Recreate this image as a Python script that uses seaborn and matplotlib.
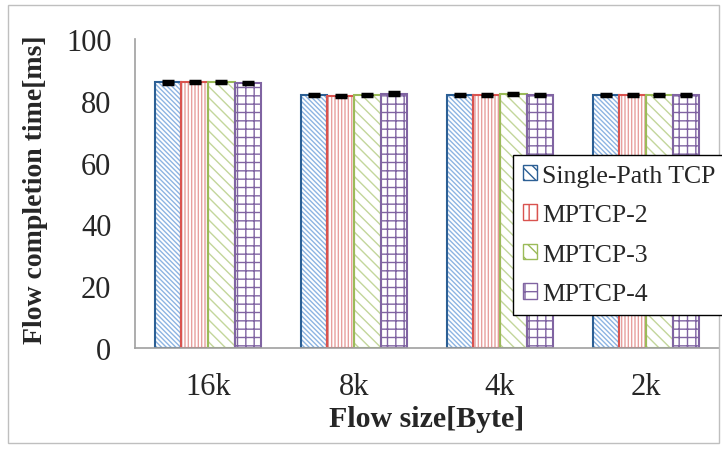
import matplotlib
matplotlib.use("Agg")
import matplotlib.pyplot as plt
import matplotlib.patches as mpatches
import seaborn as sns
import pandas as pd
import numpy as np

categories = ["16k", "8k", "4k", "2k"]
series = ["Single-Path TCP", "MPTCP-2", "MPTCP-3", "MPTCP-4"]
single_path = [86.0, 82.0, 82.0, 82.0]
mptcp2 = [86.2, 81.6, 81.8, 81.8]
mptcp3 = [86.2, 82.0, 82.3, 81.9]
mptcp4 = [85.9, 82.4, 81.8, 82.0]
errors = [
    [0.4, 0.3, 0.3, 0.3],
    [0.3, 0.3, 0.3, 0.3],
    [0.3, 0.3, 0.4, 0.3],
    [0.4, 0.4, 0.3, 0.3],
]
yticks = [0, 20, 40, 60, 80, 100]

edge_colors = ["#2C5F94", "#D9534F", "#9BBB59", "#8064A2"]
hatch_colors = ["#8DB4E2", "#E8A09E", "#C3D69B", "#8064A2"]
hatches = ["\\\\\\\\\\\\\\", "|||||", "\\\\\\", "++"]

values = [single_path, mptcp2, mptcp3, mptcp4]
rows = []
for s, vals in zip(series, values):
    for c, v in zip(categories, vals):
        rows.append({"Flow size": c, "Series": s, "Value": v})
df = pd.DataFrame(rows)

sns.set_style("white")
plt.rcParams["font.family"] = ["Liberation Serif", "DejaVu Serif"]
plt.rcParams["hatch.linewidth"] = 1.0

fig = plt.figure(figsize=(7.22, 4.52), dpi=100)
ax = fig.add_axes([0.187, 0.228, 0.809, 0.683])

sns.barplot(data=df, x="Flow size", y="Value", hue="Series", order=categories,
            hue_order=series, errorbar=None, width=0.73, gap=0,
            palette=["white"] * 4, ax=ax, legend=False, saturation=1)

bar_containers = list(ax.containers)
for i, cont in enumerate(bar_containers):
    for j, p in enumerate(cont.patches):
        p.set_facecolor("white")
        p.set_edgecolor(hatch_colors[i])
        p.set_hatch(hatches[i])
        p.set_linewidth(0)
        outline = mpatches.Rectangle(p.get_xy(), p.get_width(), p.get_height(),
                                     fill=False, edgecolor=edge_colors[i], linewidth=1.5,
                                     zorder=p.get_zorder() + 0.1)
        ax.add_patch(outline)
        cx = p.get_x() + p.get_width() / 2
        ax.errorbar(cx, p.get_height(), yerr=errors[i][j], color="black",
                    capsize=4, capthick=2.5, elinewidth=2, zorder=5)

ax.set_ylim(0, 100)
ax.set_yticks(yticks)
ax.set_xlim(-0.5, 3.5)
ax.tick_params(axis="both", length=0, labelsize=22)
ax.tick_params(axis="y", pad=17)
ax.tick_params(axis="x", pad=17)
for s in ["top", "right"]:
    ax.spines[s].set_visible(False)
for s in ["left", "bottom"]:
    ax.spines[s].set_color("#A0A0A0")
    ax.spines[s].set_linewidth(1.2)

ax.set_ylabel("Flow completion time[ms]", fontsize=20, fontweight="bold")
ax.set_xlabel("Flow size[Byte]", fontsize=21.5, fontweight="bold")
ax.xaxis.label.set_va("center")
ax.yaxis.label.set_va("center")
ax.yaxis.set_label_coords(36 / 722, 1 - 190 / 452, transform=fig.transFigure)
ax.xaxis.set_label_coords(427 / 722, 1 - 420 / 452, transform=fig.transFigure)

legend_hatches = ["\\\\\\", "||", "\\\\", "+"]
handles = [mpatches.Patch(facecolor="white", edgecolor=edge_colors[i], hatch=legend_hatches[i])
           for i in range(4)]
leg = fig.legend(handles, series, loc="upper left",
                 bbox_to_anchor=(513 / 722, 1 - 156 / 452), bbox_transform=fig.transFigure,
                 fontsize=18.5, frameon=True, fancybox=False, framealpha=1,
                 edgecolor="black", handlelength=0.55, handleheight=0.55,
                 handletextpad=0.2, labelspacing=0.68, borderpad=0.38, borderaxespad=0)
leg.get_frame().set_linewidth(1.0)

border = mpatches.Rectangle((0.011, 0.018), 0.985, 0.968, transform=fig.transFigure,
                            fill=False, edgecolor="#BFBFBF", linewidth=1.0)
fig.patches.append(border)

fig.savefig("out.png", dpi=100)
